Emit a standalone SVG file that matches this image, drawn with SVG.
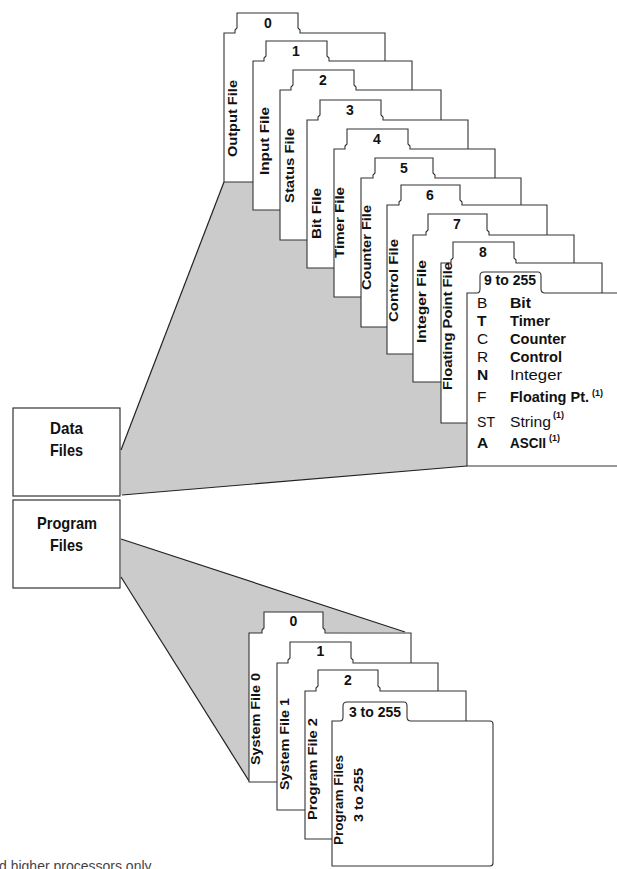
<svg xmlns="http://www.w3.org/2000/svg" width="617" height="869" viewBox="0 0 617 869">
  <style>
    .card { fill:#fff; stroke:#333; stroke-width:1.1; stroke-linejoin:miter }
    .wedge { fill:#cbcbcb; stroke:none }
    .edge { fill:none; stroke:#222; stroke-width:1.2 }
    .box { fill:#fff; stroke:#333; stroke-width:1.2 }
    text { font-family:"Liberation Sans", Arial, sans-serif; fill:#111 }
    .lbl { font-weight:bold; font-size:12.5px }
    .plbl { font-weight:bold; font-size:13.5px }
    .num { font-weight:bold; font-size:14px; text-anchor:middle }
    .big { font-weight:bold; font-size:17px }
    .it { font-size:15.5px }
    .b { font-weight:bold }
    .sup { font-size:9px; font-weight:bold }
    .note { font-size:14px; fill:#444 }
  </style>

  <!-- shaded fans linking the file boxes to their card stacks -->
  <g id="connectors">
    <polygon class="wedge" points="121,450 224,182 467,182 467,466 121,495"/>
    <polygon class="wedge" points="121,539 405,632 249,633 249,781 121,577"/>
    <line class="edge" x1="121" y1="450" x2="224" y2="182"/>
    <line class="edge" x1="122" y1="495" x2="467" y2="466"/>
    <line class="edge" x1="121" y1="539" x2="405" y2="632"/>
    <line class="edge" x1="121" y1="577" x2="249" y2="781"/>
  </g>

  <g id="data-files">
    <rect class="box" x="13" y="408" width="107" height="88"/>
    <text class="big" x="50" y="434" textLength="33" lengthAdjust="spacingAndGlyphs">Data</text>
    <text class="big" x="50" y="456" textLength="33" lengthAdjust="spacingAndGlyphs">Files</text>
  </g>

  <g id="program-files">
    <rect class="box" x="13" y="500" width="107" height="88"/>
    <text class="big" x="37" y="529" textLength="60" lengthAdjust="spacingAndGlyphs">Program</text>
    <text class="big" x="50" y="551" textLength="33" lengthAdjust="spacingAndGlyphs">Files</text>
  </g>

  <!-- data file cards -->
  <g id="data-0">
    <path class="card" d="M224,182 V33 H235 V30 L237,28 V13 H298 V28 L300,30 V33 H385 V182 Z"/>
    <text class="num" x="268" y="28">0</text>
    <text class="lbl" transform="translate(237,157) rotate(-90)" textLength="77" lengthAdjust="spacingAndGlyphs">Output File</text>
  </g>
  <g id="data-1">
    <path class="card" d="M253,210 V61 H264 V58 L266,56 V41 H327 V56 L329,58 V61 H412 V210 Z"/>
    <text class="num" x="296" y="56">1</text>
    <text class="lbl" transform="translate(269,175) rotate(-90)" textLength="68" lengthAdjust="spacingAndGlyphs">Input File</text>
  </g>
  <g id="data-2">
    <path class="card" d="M280,240 V90 H291 V87 L293,85 V70 H354 V85 L356,87 V90 H441 V240 Z"/>
    <text class="num" x="323" y="85">2</text>
    <text class="lbl" transform="translate(294,203) rotate(-90)" textLength="75" lengthAdjust="spacingAndGlyphs">Status File</text>
  </g>
  <g id="data-3">
    <path class="card" d="M307,268 V120 H318 V117 L320,115 V100 H381 V115 L383,117 V120 H468 V268 Z"/>
    <text class="num" x="350" y="115">3</text>
    <text class="lbl" transform="translate(321,239) rotate(-90)" textLength="51" lengthAdjust="spacingAndGlyphs">Bit File</text>
  </g>
  <g id="data-4">
    <path class="card" d="M334,297 V149 H345 V146 L347,144 V129 H408 V144 L410,146 V149 H495 V297 Z"/>
    <text class="num" x="377" y="144">4</text>
    <text class="lbl" transform="translate(344,258) rotate(-90)" textLength="71" lengthAdjust="spacingAndGlyphs">Timer File</text>
  </g>
  <g id="data-5">
    <path class="card" d="M361,327 V178 H373 V175 L375,173 V158 H433 V173 L435,175 V178 H521 V327 Z"/>
    <text class="num" x="404" y="173">5</text>
    <text class="lbl" transform="translate(371,290) rotate(-90)" textLength="85" lengthAdjust="spacingAndGlyphs">Counter File</text>
  </g>
  <g id="data-6">
    <path class="card" d="M387,354 V205 H399 V202 L401,200 V185 H460 V200 L462,202 V205 H547 V354 Z"/>
    <text class="num" x="430" y="200">6</text>
    <text class="lbl" transform="translate(398,322) rotate(-90)" textLength="83" lengthAdjust="spacingAndGlyphs">Control File</text>
  </g>
  <g id="data-7">
    <path class="card" d="M413,382 V235 H426 V232 L428,230 V214 H487 V230 L489,232 V235 H574 V382 Z"/>
    <text class="num" x="457" y="229">7</text>
    <text class="lbl" transform="translate(426,343) rotate(-90)" textLength="83" lengthAdjust="spacingAndGlyphs">Integer File</text>
  </g>
  <g id="data-8">
    <path class="card" d="M441,423 V263 H451 V260 L453,258 V242 H514 V258 L516,260 V263 H602 V423 Z"/>
    <text class="num" x="483" y="257">8</text>
    <text class="lbl" transform="translate(452,390) rotate(-90)" textLength="128" lengthAdjust="spacingAndGlyphs">Floating Point File</text>
  </g>
  <g id="data-9">
    <path class="card" d="M467,466 V293 H477 Q480,293 480,289 V276 Q480,272 484,272 H538 Q541,272 541,276 V289 Q541,293 545,293 H630 V466 Z"/>
    <text class="num" x="510" y="285">9 to 255</text>
    <text class="it" x="477" y="308">B</text>
    <text class="it b" x="510" y="308" textLength="21" lengthAdjust="spacingAndGlyphs">Bit</text>
    <text class="it b" x="477" y="326">T</text>
    <text class="it b" x="510" y="326" textLength="40" lengthAdjust="spacingAndGlyphs">Timer</text>
    <text class="it" x="477" y="344">C</text>
    <text class="it b" x="510" y="344" textLength="56" lengthAdjust="spacingAndGlyphs">Counter</text>
    <text class="it" x="477" y="362">R</text>
    <text class="it b" x="510" y="362" textLength="52" lengthAdjust="spacingAndGlyphs">Control</text>
    <text class="it b" x="477" y="380">N</text>
    <text class="it" x="510" y="380" textLength="52" lengthAdjust="spacingAndGlyphs">Integer</text>
    <text class="it" x="477" y="402">F</text>
    <text class="it b" x="510" y="402" textLength="79" lengthAdjust="spacingAndGlyphs">Floating Pt.</text>
    <text class="sup" x="592" y="396">(1)</text>
    <text class="it" x="477" y="427" textLength="18" lengthAdjust="spacingAndGlyphs">ST</text>
    <text class="it" x="510" y="427" textLength="41" lengthAdjust="spacingAndGlyphs">String</text>
    <text class="sup" x="553" y="418">(1)</text>
    <text class="it b" x="477" y="448">A</text>
    <text class="it b" x="510" y="448" textLength="36" lengthAdjust="spacingAndGlyphs">ASCII</text>
    <text class="sup" x="549" y="441">(1)</text>
  </g>

  <!-- program file cards -->
  <g id="prog-0">
    <path class="card" d="M249,782 V633 H262 V630 L264,628 V612 H323 V628 L325,630 V633 H411 V782 Z"/>
    <text class="num" x="293.5" y="626">0</text>
    <text class="plbl" transform="translate(259.7,765) rotate(-90)" textLength="92" lengthAdjust="spacingAndGlyphs">System File 0</text>
  </g>
  <g id="prog-1">
    <path class="card" d="M277,810 V663 H288 V660 L290,658 V642 H351 V658 L353,660 V663 H438 V810 Z"/>
    <text class="num" x="320.5" y="656">1</text>
    <text class="plbl" transform="translate(288.7,790) rotate(-90)" textLength="92" lengthAdjust="spacingAndGlyphs">System File 1</text>
  </g>
  <g id="prog-2">
    <path class="card" d="M305,839 V691 H316 V688 L318,686 V670 H378 V686 L380,688 V691 H466 V839 Z"/>
    <text class="num" x="348" y="685">2</text>
    <text class="plbl" transform="translate(316.7,820) rotate(-90)" textLength="102" lengthAdjust="spacingAndGlyphs">Program File 2</text>
  </g>
  <g id="prog-3">
    <path class="card" d="M332,866 V721 H340 Q343,721 343,717 V706 Q343,702 347,702 H404 Q407,702 407,706 V717 Q407,721 411,721 H490 Q493,721 493,724 V863 Q493,866 490,866 Z"/>
    <text class="num" x="375" y="717">3 to 255</text>
    <text class="plbl" transform="translate(342.7,845) rotate(-90)" textLength="90" lengthAdjust="spacingAndGlyphs">Program Files</text>
    <text class="plbl" transform="translate(362.7,822) rotate(-90)" textLength="54" lengthAdjust="spacingAndGlyphs">3 to 255</text>
  </g>

  <text class="note" x="-1" y="871">d higher processors only</text>
</svg>
